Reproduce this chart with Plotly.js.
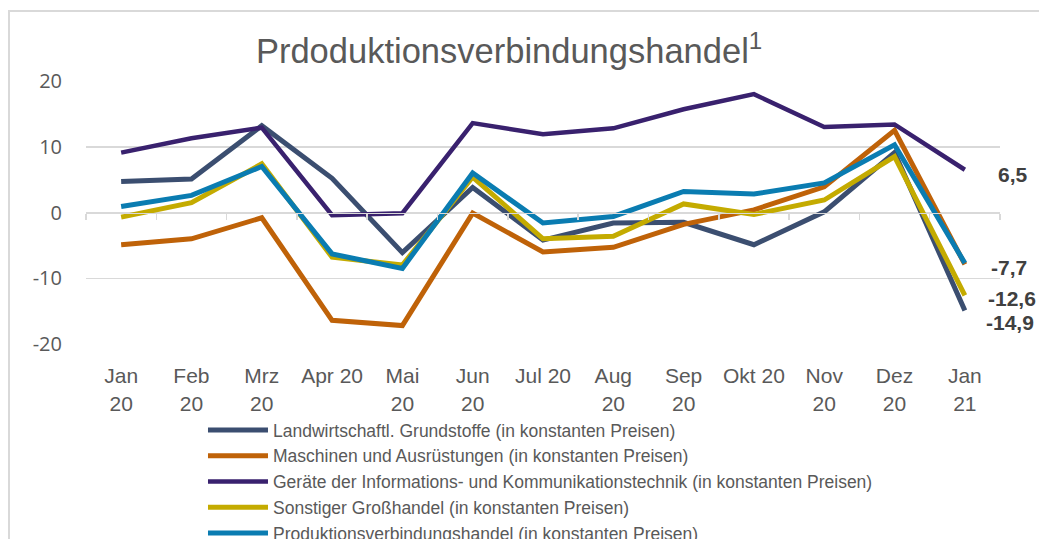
<!DOCTYPE html>
<html>
<head>
<meta charset="utf-8">
<script src="https://cdn.plot.ly/plotly-3.0.1.min.js"></script>
<style>
  html, body { margin: 0; padding: 0; background: #fff; overflow: hidden; width: 1039px; height: 539px; }
  #wrap { position: relative; width: 1039px; height: 539px; overflow: hidden; }
  #chart { width: 1039px; height: 570px; }
  #frame { position: absolute; left: 8px; top: 10px; width: 1100px; height: 600px;
           border-left: 2px solid #d9d9d9; border-top: 2px solid #d9d9d9; pointer-events: none; }
</style>
</head>
<body>
<div id="wrap">
  <div id="chart"></div>
  <div id="frame"></div>
</div>
<script>
const categories = ["Jan<br>20","Feb<br>20","Mrz<br>20","Apr 20","Mai<br>20","Jun<br>20","Jul 20","Aug<br>20","Sep<br>20","Okt 20","Nov<br>20","Dez<br>20","Jan<br>21"];

const landwirtschaft = [4.7, 5.1, 13.2, 5.2, -6.1, 3.8, -4.2, -1.6, -1.5, -4.9, 0.1, 9.1, -14.9];
const maschinen      = [-4.9, -4.0, -0.8, -16.4, -17.2, -0.1, -6.0, -5.3, -1.8, 0.4, 3.9, 12.5, -7.9];
const geraete        = [9.1, 11.3, 12.9, -0.4, -0.1, 13.6, 11.9, 12.8, 15.7, 18.0, 13.0, 13.4, 6.5];
const sonstiger      = [-0.7, 1.5, 7.4, -6.8, -8.0, 5.4, -4.0, -3.6, 1.3, -0.3, 1.9, 8.5, -12.6];
const produktion     = [0.9, 2.6, 7.0, -6.3, -8.5, 6.0, -1.6, -0.6, 3.2, 2.8, 4.5, 10.3, -7.7];

const yTickVals  = [-20, -10, 0, 10, 20];
const yTickTexts = ["-20", "-10", "0", "10", "20"];

const seriesNames = [
  "Landwirtschaftl. Grundstoffe (in konstanten Preisen)",
  "Maschinen und Ausrüstungen (in konstanten Preisen)",
  "Geräte der Informations- und Kommunikationstechnik (in konstanten Preisen)",
  "Sonstiger Großhandel (in konstanten Preisen)",
  "Produktionsverbindungshandel (in konstanten Preisen)"
];
const seriesValues = [landwirtschaft, maschinen, geraete, sonstiger, produktion];
const seriesColors = ["#3b4e70", "#bf6208", "#39216e", "#c4ab00", "#0a7cb1"];
const seriesWidths = [5, 5, 4.5, 5, 5];

const traces = seriesValues.map((vals, i) => ({
  type: "scatter",
  mode: "lines",
  x: categories,
  y: vals,
  name: seriesNames[i],
  line: { color: seriesColors[i], width: seriesWidths[i] },
  hoverinfo: "skip"
}));

// helper trace so the category axis line at y = 0 is drawn
traces.push({
  type: "scatter", mode: "lines", x: [0], y: [null],
  xaxis: "x2", yaxis: "y", showlegend: false, hoverinfo: "skip"
});

// end-of-line value labels: [series index, x shift, y shift]
const labelSpecs = [[2, 31, -5], [4, 24, -4], [3, 21, -3], [0, 19, -12]];
const last = categories.length - 1;
const annotations = labelSpecs.map(([si, xs, ys]) => ({
  x: categories[last],
  y: seriesValues[si][last],
  xref: "x", yref: "y",
  text: String(seriesValues[si][last]).replace(".", ","),
  showarrow: false,
  xanchor: "left",
  yanchor: "middle",
  xshift: xs,
  yshift: ys,
  font: { family: "Liberation Sans, Arial, sans-serif", size: 21, color: "#404040", weight: "bold" }
}));

const layout = {
  width: 1039, height: 570,
  paper_bgcolor: "#ffffff", plot_bgcolor: "#ffffff",
  margin: { l: 86, r: 39, t: 81, b: 226 },
  title: {
    text: "Prdoduktionsverbindungshandel<sup>1</sup>",
    font: { family: "Liberation Sans, Arial, sans-serif", size: 34.5, color: "#595959" },
    x: 0.49, xref: "container", xanchor: "center",
    y: 1 - 51 / 570, yref: "container", yanchor: "middle"
  },
  showlegend: true,
  legend: {
    orientation: "v",
    x: 0.128, xref: "paper", xanchor: "left",
    y: -0.2586, yref: "paper", yanchor: "top",
    font: { family: "Liberation Sans, Arial, sans-serif", size: 17.5, color: "#595959" },
    itemwidth: 60,
    bgcolor: "rgba(0,0,0,0)",
    tracegroupgap: 0
  },
  xaxis: {
    type: "category",
    range: [-0.5, 12.5],
    showgrid: false,
    zeroline: false,
    showline: false,
    ticks: "outside",
    ticklen: 13,
    tickcolor: "rgba(0,0,0,0)",
    tickfont: { family: "Liberation Sans, Arial, sans-serif", size: 21, color: "#595959" }
  },
  xaxis2: {
    overlaying: "x",
    anchor: "free",
    position: 0.5,
    side: "bottom",
    range: [-0.5, 12.5],
    tickmode: "linear",
    tick0: -0.5,
    dtick: 1,
    ticks: "outside",
    ticklen: 6,
    tickwidth: 1.5,
    tickcolor: "#d9d9d9",
    showticklabels: false,
    showgrid: false,
    zeroline: false,
    showline: true,
    linecolor: "#d9d9d9",
    linewidth: 1.5
  },
  yaxis: {
    range: [-20, 20],
    tickmode: "array",
    tickvals: yTickVals,
    ticktext: yTickTexts,
    showgrid: true,
    gridcolor: "#d9d9d9",
    gridwidth: 1.5,
    zeroline: false,
    showline: false,
    ticks: "outside",
    ticklen: 19,
    tickcolor: "rgba(0,0,0,0)",
    tickfont: { family: "Open Sans, sans-serif", size: 20, color: "#595959" }
  },
  annotations: annotations
};

Plotly.newPlot("chart", traces, layout, { displayModeBar: false, staticPlot: true });
</script>
</body>
</html>
